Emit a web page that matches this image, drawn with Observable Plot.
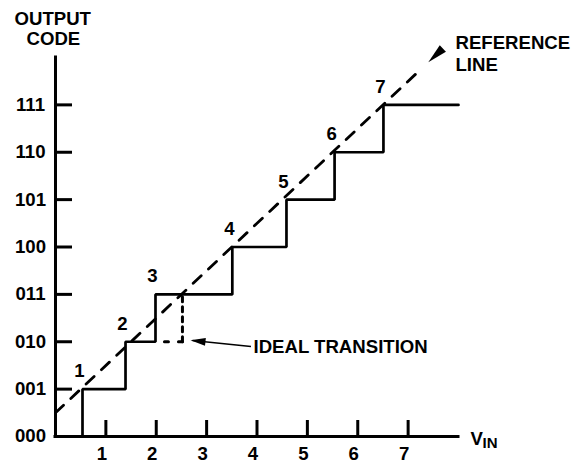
<!DOCTYPE html>
<html><head><meta charset="utf-8">
<script src="https://cdn.jsdelivr.net/npm/d3@7"></script>
<script src="https://cdn.jsdelivr.net/npm/@observablehq/plot@0.6"></script>
<style>
html,body{margin:0;padding:0;background:#fff;}
#chart svg{display:block;}
</style></head><body><div id="chart"></div>
<script>
// Output codes (y) and their labels
const codeValues = [0, 1, 2, 3, 4, 5, 6, 7];
const codeLabels = ["000", "001", "010", "011", "100", "101", "110", "111"];
// Input voltage tick values (x)
const xTickValues = [1, 2, 3, 4, 5, 6, 7];
// V_IN at which codes 1..7 begin (actual, non-ideal transitions)
const transitions = [0.536, 1.39, 1.985, 3.51, 4.585, 5.54, 6.51];
const transitionNames = ["1", "2", "3", "4", "5", "6", "7"];
const fullScale = 8;
// Reference line: code = V_IN + 0.5
const referenceOffset = 0.5;
const refLineEnd = 7.22;
const refArrowTip = 7.4;
// Ideal transition for code 3 (shown dotted)
const idealTransition = 2.52;
const idealCode = 3;

const font = "'Liberation Sans', Arial, Helvetica, sans-serif";

const stair = transitions.map((t, i) => ({x: t, y: codeValues[i]}))
  .concat([{x: fullScale, y: codeValues[codeValues.length - 1]}]);
const refLine = [
  {x: 0, y: referenceOffset},
  {x: refLineEnd, y: refLineEnd + referenceOffset}
];
const transLabels = transitions.map((t, i) => ({x: t, y: codeValues[i + 1], label: transitionNames[i]}));
const yLabels = codeValues.map((v, i) => ({v, label: codeLabels[i]}));
const prevStep = transitions[idealCode - 1];

const chart = Plot.plot({
  width: 579,
  height: 460,
  marginLeft: 55,
  marginRight: 121,
  marginTop: 57,
  marginBottom: 24,
  x: {domain: [0, fullScale]},
  y: {domain: [0, 8]},
  style: {fontFamily: font, fontSize: "18.6px", fontWeight: "bold", color: "#000", background: "#fff", overflow: "visible"},
  marks: [
    // axes lines
    Plot.ruleX([0], {strokeWidth: 3, strokeLinecap: "square"}),
    Plot.ruleY([0], {strokeWidth: 3, strokeLinecap: "square"}),
    // inward ticks
    Plot.axisX(xTickValues, {tickSize: -16, strokeWidth: 3, fill: "none", label: null}),
    Plot.axisY(codeValues.slice(1), {tickSize: -17, strokeWidth: 3, fill: "none", label: null}),
    // tick labels
    Plot.text(yLabels, {y: "v", text: "label", frameAnchor: "left", dx: -25, textAnchor: "middle"}),
    Plot.text(xTickValues, {x: d => d, text: d => String(d), frameAnchor: "bottom", lineAnchor: "top", dy: 10, dx: -4}),
    // reference line (dashed)
    Plot.line(refLine, {x: "x", y: "y", strokeWidth: 2.8, strokeDasharray: "11,10"}),
    Plot.vector([{x: refArrowTip, y: refArrowTip + referenceOffset}], {
      x: "x", y: "y", rotate: 226.8, length: 20, r: 4.5, shape: "spike", anchor: "end",
      fill: "#000", stroke: "none"
    }),
    // staircase transfer function
    Plot.line(stair, {x: "x", y: "y", curve: "step-before", strokeWidth: 2.7, strokeLinejoin: "miter"}),
    // ideal transition (dotted)
    Plot.line([{x: idealTransition, y: idealCode - 1}, {x: prevStep, y: idealCode - 1}], {x: "x", y: "y", strokeWidth: 3, strokeDasharray: "4,10"}),
    Plot.line([{x: idealTransition, y: idealCode - 1}, {x: idealTransition, y: idealCode - 0.05}], {x: "x", y: "y", strokeWidth: 3, strokeDasharray: "5,5"}),
    // transition numbers
    Plot.text(transLabels, {x: "x", y: "y", text: "label", dx: -3, dy: -18}),
    // IDEAL TRANSITION callout
    Plot.link([{x1: 3.88, y1: 1.9, x2: 2.72, y2: 2.025}], {x1: "x1", y1: "y1", x2: "x2", y2: "y2", strokeWidth: 1.5}),
    Plot.vector([{x: 2.68, y: 2.03}], {
      x: "x", y: "y", rotate: 276, length: 15, r: 4, shape: "spike", anchor: "end",
      fill: "#000", stroke: "none"
    }),
    Plot.text(["IDEAL TRANSITION"], {x: 3.93, y: 1.885, textAnchor: "start"}),
    // titles
    Plot.text(["OUTPUT"], {frameAnchor: "top-left", textAnchor: "start", lineAnchor: "bottom", dx: -41, dy: -33}),
    Plot.text(["CODE"], {frameAnchor: "top-left", textAnchor: "start", lineAnchor: "bottom", dx: -29, dy: -13}),
    Plot.text(["REFERENCE\nLINE"], {frameAnchor: "top-right", textAnchor: "start", lineAnchor: "bottom", dx: -3, dy: 13, lineHeight: 1.14}),
    Plot.text(["V"], {frameAnchor: "bottom-right", textAnchor: "start", lineAnchor: "bottom", dx: 12, dy: 8}),
    Plot.text(["IN"], {frameAnchor: "bottom-right", textAnchor: "start", lineAnchor: "bottom", dx: 24, dy: 11, fontSize: 15})
  ]
});
document.getElementById("chart").appendChild(chart);
</script>
</body></html>
